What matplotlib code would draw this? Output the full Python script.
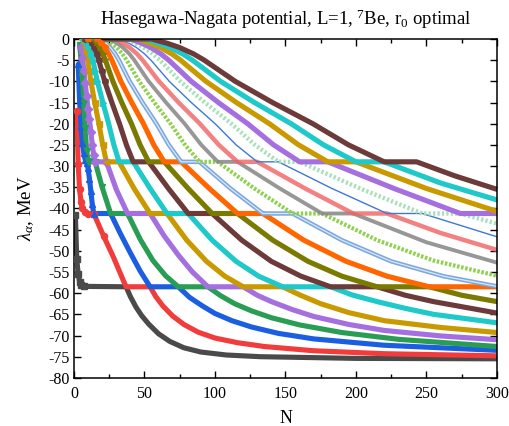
import matplotlib
matplotlib.use("Agg")
import matplotlib.pyplot as plt
from matplotlib.ticker import MultipleLocator

plt.rcParams['font.family'] = ['Liberation Serif', 'DejaVu Serif']
plt.rcParams['mathtext.fontset'] = 'custom'
plt.rcParams['mathtext.rm'] = 'Liberation Serif'
plt.rcParams['mathtext.it'] = 'Liberation Serif:italic'
plt.rcParams['axes.unicode_minus'] = False

# Eigenvalues lambda_alpha (MeV) versus basis size N, one list of (N, lambda) per level
s01 = [(1, -41.5), (2, -52), (3, -55.5), (4, -57.3), (5, -58), (7, -58.4), (37, -58.5), (40, -60.8), (44, -63.3),
       (48, -65.3), (53, -67.3), (60, -69.6), (68, -71.4), (78, -72.9), (90, -73.9), (108, -74.6), (132, -75),
       (200, -75.4), (300, -75.5)]
s02 = [(2, -17), (3, -29.5), (4, -35.5), (5, -38.5), (6, -40), (8, -40.9), (10, -41.2), (14, -41.2), (21, -46.5),
       (28, -51.5), (35, -57), (37, -58.5), (54, -58.5), (58, -60.8), (63, -63), (70, -65.4), (78, -67.4),
       (88, -69.2), (100, -70.6), (116, -71.7), (135, -72.6), (170, -73.6), (220, -74.3), (300, -74.8)]
s03 = [(3, -6), (4, -14.5), (5, -20.5), (6, -24.5), (7, -27), (8, -28.5), (9, -29.2), (10, -30.5), (11, -33),
       (12, -36), (13, -39), (14, -41.2), (26, -41.2), (33, -46), (40, -50.5), (47, -54.8), (54, -58.5), (74, -58.5),
       (82, -61), (91, -63), (100, -64.8), (112, -66.5), (126, -68), (145, -69.5), (170, -70.8), (220, -72.3),
       (300, -73.5)]
s04 = [(4, -1.5), (5, -4.5), (6, -9), (7, -15), (8, -21), (9, -26.5), (10, -28.7), (11, -29), (15, -29), (20, -35),
       (26, -41.2), (38, -41.2), (47, -47.3), (56, -52.3), (65, -55.9), (74, -58.5), (95, -58.5), (104, -60.6),
       (114, -62.5), (126, -64.2), (140, -65.8), (160, -67.5), (190, -69.3), (230, -70.9), (300, -72.6)]
s05 = [(5, -2), (6, -4.5), (7, -7.5), (8, -10.5), (9, -13.5), (10, -16.5), (11, -19), (12, -22), (13, -25),
       (14, -27.5), (15, -29), (23, -29), (30, -35.5), (38, -41.2), (54, -41.2), (64, -46.5), (74, -51), (84, -55),
       (95, -58.5), (120, -58.5), (130, -60.5), (140, -62), (155, -63.9), (170, -65.5), (195, -67.4), (220, -68.8),
       (260, -70.1), (300, -71)]
s06 = [(6, 0), (6.9, -1), (7.8, -2), (8.9, -3.5), (9.7, -5), (10.8, -7.5), (12, -10), (14.7, -15), (17.7, -20),
       (20.4, -25), (23, -29), (32, -29), (43, -35.5), (54, -41.2), (66, -41.2), (80, -47.5), (94, -52.5),
       (107, -56), (120, -58.5), (148, -58.5), (160, -60.4), (175, -62.5), (195, -64.6), (220, -66.5),
       (260, -68.1), (300, -69.3)]
s07 = [(7, 0), (8, 0), (9.6, -1), (10.9, -2), (12.3, -3.5), (13.4, -5), (15, -7.5), (16.6, -10), (20.5, -15),
       (24.6, -20), (28.3, -25), (32, -29), (42, -29), (54, -35.3), (66, -41.2), (81, -41.2), (98, -47.5),
       (115, -52.5), (131, -56), (148, -58.5), (182, -58.5), (197, -60.4), (215, -62), (235, -63.6), (255, -65),
       (300, -67)]
s08 = [(8, 0), (10.5, 0), (12.6, -1), (14.3, -2), (16.2, -3.5), (17.6, -5), (19.7, -7.5), (21.8, -10), (26.9, -15),
       (32.3, -20), (37.2, -25), (42, -29), (53, -29), (67, -35.3), (81, -41.2), (98, -41.2), (119, -47.5),
       (140, -52.5), (161, -56), (182, -58.5), (215, -58.5), (235, -60.5), (255, -62), (300, -64.7)]
s09 = [(9, 0), (13.3, 0), (15.9, -1), (18, -2), (20.4, -3.5), (22.3, -5), (24.9, -7.5), (27.6, -10), (33.9, -15),
       (40.8, -20), (46.9, -25), (53, -29), (64, -29), (81, -35.3), (98, -41.2), (116, -41.2), (141, -47.5),
       (166, -52.5), (190, -56), (215, -58.5), (252, -58.5), (275, -60.5), (300, -62)]
s10 = [(10, 0), (16, 0), (19.2, -1), (21.8, -2), (24.6, -3.5), (26.9, -5), (30.1, -7.5), (33.3, -10), (41, -15),
       (49.3, -20), (56.6, -25), (64, -29), (76, -29), (96, -35.3), (116, -41.2), (134, -41.2), (163, -47.5),
       (193, -52.5), (222, -56), (252, -58.5), (300, -58.5)]
s11 = [(11, 0), (19, 0), (22.8, -1), (25.8, -2), (29.3, -3.5), (31.9, -5), (35.7, -7.5), (39.5, -10), (48.6, -15),
       (58.5, -20), (67.3, -25), (76, -29), (89, -29), (111, -35.3), (134, -41.2), (155, -41.2), (190, -47.5),
       (225, -52.5), (262, -56), (300, -58.4)]
s12 = [(12, 0), (22.3, 0), (26.7, -1), (30.3, -2), (34.3, -3.5), (37.4, -5), (41.8, -7.5), (46.3, -10), (57, -15),
       (68.5, -20), (78.8, -25), (89, -29), (102, -29), (128, -35.3), (155, -41.2), (176, -41.2), (215, -47.5),
       (255, -52.3), (300, -55.9)]
s13 = [(13, 0), (25.5, 0), (30.6, -1), (34.7, -2), (39.3, -3.5), (42.8, -5), (47.9, -7.5), (53, -10), (65.3, -15),
       (78.5, -20), (90.3, -25), (102, -29), (116, -29), (146, -35.3), (176, -41.2), (198, -41.2), (250, -48),
       (300, -52.8)]
s14 = [(14, 0), (29, 0), (34.8, -1), (39.4, -2), (44.7, -3.5), (48.7, -5), (54.5, -7.5), (60.3, -10), (74.2, -15),
       (89.3, -20), (102.7, -25), (116, -29), (130, -29), (164, -35.3), (198, -41.2), (222, -41.2), (260, -45.8),
       (300, -49.8)]
s15 = [(15, 0), (32.5, 0), (39, -1), (44.2, -2), (50, -3.5), (54.6, -5), (61.1, -7.5), (67.6, -10), (83.2, -15),
       (100.1, -20), (115, -25), (130, -29), (145, -29), (183, -35.3), (222, -41.2), (247, -41.2), (300, -46.7)]
s16 = [(16, 0), (36.3, 0), (43.5, -1), (49.3, -2), (55.8, -3.5), (60.9, -5), (68.2, -7.5), (75.4, -10),
       (92.8, -15), (111.7, -20), (128.3, -25), (145, -29), (160, -29), (203, -35.3), (247, -41.2), (274, -41.2),
       (300, -43.6)]
s17 = [(17, 0), (40, 0), (48, -1), (54.4, -2), (61.6, -3.5), (67.2, -5), (75.2, -7.5), (83.2, -10), (102.4, -15),
       (123.2, -20), (141.6, -25), (160, -29), (180, -29), (227, -35.3), (274, -41.2), (300, -41.2)]
s18 = [(18, 0), (45, 0), (54, -1), (61.2, -2), (69.3, -3.5), (75.6, -5), (84.6, -7.5), (93.6, -10), (115.2, -15),
       (138.6, -20), (159.3, -25), (180, -29), (200, -29), (250, -35.3), (300, -40.7)]
s19 = [(19, 0), (50, 0), (60, -1), (68, -2), (77, -3.5), (84, -5), (94, -7.5), (104, -10), (128, -15), (154, -20),
       (177, -25), (200, -29), (220, -29), (260, -34), (300, -38)]
s20 = [(20, 0), (55, 0), (66, -1), (74.8, -2), (84.7, -3.5), (92.4, -5), (103.4, -7.5), (114.4, -10),
       (140.8, -15), (169.4, -20), (194.7, -25), (220, -29), (243, -29), (270, -32.3), (300, -35.5)]

series = [s01, s02, s03, s04, s05, s06, s07, s08, s09, s10,
          s11, s12, s13, s14, s15, s16, s17, s18, s19, s20]

colors = ['#4a4a4a', '#f23b3b', '#1b5fe0', '#2a9d55', '#a56fe0', '#c99a00', '#1fc9c9', '#6d3a3a',
          '#7a7a00', '#ff6600', '#7ba8de', '#8fd14f', '#858585', '#f26262', '#3c78d8', '#a8e0b8',
          '#a56fe0', '#c99a00', '#1fc9c9', '#6d3a3a']
markers = ['s', 'o', '^', 'v', 'D', '<', '>', 'h', '*', 'p']

fig = plt.figure(figsize=(5.10, 4.26), dpi=100)
ax = fig.add_axes([0.145, 0.113, 0.8295, 0.7955])

for i, (pts, col) in enumerate(zip(series, colors)):
    xs = [p[0] for p in pts]
    ys = [p[1] for p in pts]
    idx = i + 1
    if idx == 11:
        ax.plot(xs, ys, color=col, lw=3.2, solid_joinstyle='round', zorder=2)
        ax.plot(xs, ys, color='#dde8f6', lw=0.9, zorder=2)
    elif idx == 12:
        ax.plot(xs, ys, color=col, lw=3.0, ls=(0, (0.6, 0.4)), zorder=2)
    elif idx == 13:
        ax.plot(xs, ys, color=col, lw=2.8, alpha=0.85, zorder=2)
    elif idx == 14:
        ax.plot(xs, ys, color=col, lw=3.2, alpha=0.8, zorder=2)
    elif idx == 15:
        ax.plot(xs, ys, color=col, lw=1.0, zorder=2)
    elif idx == 16:
        ax.plot(xs, ys, color=col, lw=3.2, ls=(0, (0.5, 0.5)), zorder=2)
    else:
        ax.plot(xs, ys, color=col, lw=3.7, solid_joinstyle='round', solid_capstyle='round', zorder=2)
    # separate symbols along the steep start of the lowest levels
    if idx <= 10:
        early = [k for k, x in enumerate(xs) if x <= 24]
        ax.plot([xs[k] for k in early], [ys[k] for k in early], ls='none', marker=markers[i],
                ms=4.4, color=col, mec=col, zorder=3)

ax.set_xlim(0, 300)
ax.set_ylim(-80, 0)
ax.xaxis.set_major_locator(MultipleLocator(50))
ax.xaxis.set_minor_locator(MultipleLocator(25))
ax.yaxis.set_major_locator(MultipleLocator(5))
ax.tick_params(which='both', direction='in', top=True, right=True, labelsize=11.5)
ax.tick_params(axis='x', which='both', pad=5.5)
ax.tick_params(axis='y', which='both', pad=3)
ax.tick_params(which='major', length=5, width=1.0)
ax.tick_params(which='minor', length=3, width=1.0)
for sp in ax.spines.values():
    sp.set_linewidth(1.1)

ax.set_xlabel('N', fontsize=13, labelpad=6)
ax.set_ylabel(r'$\lambda_\alpha$, MeV', fontsize=13.5, labelpad=9)
ax.set_title(r'Hasegawa-Nagata potential, L=1, $^{7}$Be, r$_{0}$ optimal', fontsize=13.5, pad=10)

fig.savefig('out.png', dpi=100)
